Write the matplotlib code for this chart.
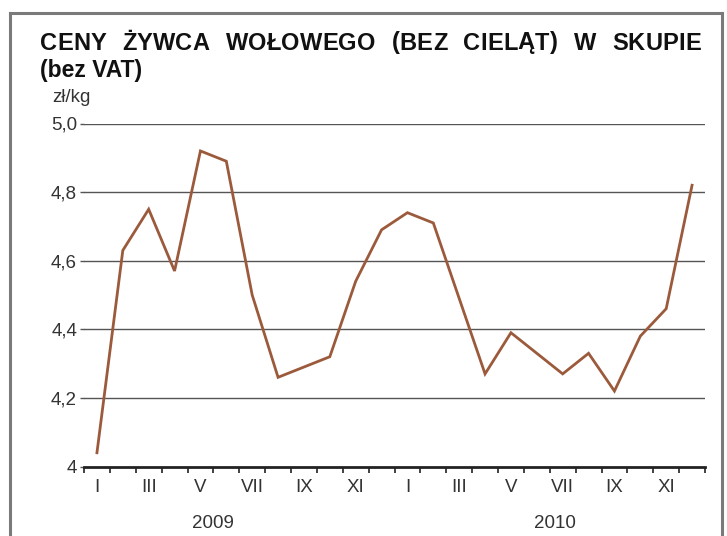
import numpy as np
import matplotlib
matplotlib.use("Agg")
import matplotlib.pyplot as plt
from matplotlib.lines import Line2D

plt.rcParams['font.family'] = ['Liberation Sans', 'DejaVu Sans']

# ceny zywca wolowego, zl/kg, I 2009 - XII 2010
ceny = [4.04, 4.63, 4.75, 4.57, 4.92, 4.89, 4.50, 4.26, 4.29, 4.32, 4.54, 4.69,
        4.74, 4.71, 4.49, 4.27, 4.39, 4.33, 4.27, 4.33, 4.22, 4.38, 4.46, 4.82]
miesiace = ['I', 'III', 'V', 'VII', 'IX', 'XI']
lata = ['2009', '2010']
y_ticks = [4.0, 4.2, 4.4, 4.6, 4.8, 5.0]
y_labels = ['4', '4,2', '4,4', '4,6', '4,8', '5,0']

W, H = 727, 536
fig = plt.figure(figsize=(W / 100, H / 100), dpi=100)
ax = fig.add_axes([84 / W, 1 - 466.5 / H, (705 - 84) / W, 343 / H])

x = np.arange(len(ceny)) + 0.5
ax.plot(x, ceny, color='#9c5a3c', lw=2.0, solid_joinstyle='miter')

ax.set_xlim(0, len(ceny))
ax.set_ylim(4, 5)
ax.set_yticks(y_ticks)
ax.set_yticklabels(y_labels)
for yv in y_ticks[1:]:
    ax.axhline(yv, color='#555555', lw=1.0, zorder=0)

ax.set_xticks(np.arange(0, len(ceny) + 1))
ax.set_xticklabels([])
ax.set_xticks(np.arange(0, len(ceny), 2) + 0.5, minor=True)
ax.set_xticklabels(miesiace * 2, minor=True)
ax.tick_params(axis='x', which='major', length=4, width=1.3, color='#333333', direction='out')
ax.tick_params(axis='x', which='minor', length=0, pad=9, labelsize=13.5, labelcolor='#333333')
ax.tick_params(axis='y', length=3, width=1.0, color='#555555', pad=2, labelsize=13.5, labelcolor='#333333')

for s in ['top', 'right', 'left']:
    ax.spines[s].set_visible(False)
ax.spines['bottom'].set_linewidth(2.0)
ax.spines['bottom'].set_color('#222222')

# lata pod osia
fig.text(213 / W, 1 - 523 / H, lata[0], ha='center', va='center', fontsize=13.5, color='#333333')
fig.text(555 / W, 1 - 523 / H, lata[1], ha='center', va='center', fontsize=13.5, color='#333333')

fig.text(52 / W, 1 - 98 / H, 'zł/kg', ha='left', va='center', fontsize=13.5, color='#333333')

# tytul - pierwsza linia wyjustowana (lekko rozstrzelone litery + odstepy miedzy slowami)
slowa = 'CENY ŻYWCA WOŁOWEGO (BEZ CIELĄT) W SKUPIE'.split()
x0, x1 = 40, 701
przerwa = 16
litery = []
for s in slowa:
    litery.append([fig.text(0, 1 - 43 / H, c, ha='left', va='center', fontsize=17,
                            fontweight='bold', color='#111111') for c in s])
fig.canvas.draw()
r = fig.canvas.get_renderer()
szer = [[t.get_window_extent(r).width for t in grp] for grp in litery]
suma = sum(sum(g) for g in szer)
n_wew = sum(len(g) - 1 for g in szer)
ls = max(0.0, (x1 - x0 - suma - przerwa * (len(slowa) - 1)) / n_wew)
przerwa = (x1 - x0 - suma - ls * n_wew) / (len(slowa) - 1)
pos = x0
for grp, ws in zip(litery, szer):
    for t, w in zip(grp, ws):
        t.set_x(pos / W)
        pos += w + ls
    pos += przerwa - ls
fig.text(40 / W, 1 - 70 / H, '(bez VAT)', ha='left', va='center', fontsize=16.5,
         fontweight='bold', color='#111111')

# ramka
for (xa, ya), (xb, yb) in [((10, 600), (10, 13)), ((10, 13), (722, 13)), ((722, 13), (722, 600))]:
    fig.add_artist(Line2D([xa / W, xb / W], [1 - ya / H, 1 - yb / H], color='#7a7a7a', lw=2.2,
                          transform=fig.transFigure))

fig.savefig('out.png', dpi=100)
